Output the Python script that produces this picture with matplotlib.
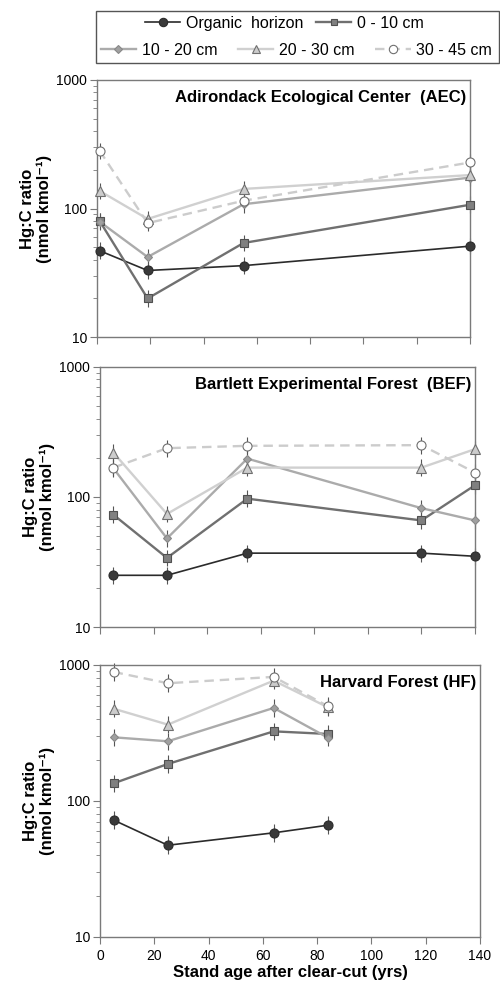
import matplotlib
matplotlib.use("Agg")
import matplotlib.pyplot as plt
from matplotlib.lines import Line2D
from matplotlib.patches import Rectangle
import matplotlib.ticker as mticker

plt.rcParams['font.family'] = ['Liberation Sans', 'DejaVu Sans']

# 数据 (Hg:C ratio, nmol kmol-1)
aec_age = [1, 19, 55, 140]
aec_org = [47, 33, 36, 51]
aec_0_10 = [80, 20, 54, 107]
aec_10_20 = [79, 42, 108, 174]
aec_20_30 = [137, 83, 142, 182]
aec_30_45 = [281, 77, 115, 228]

bef_age = [5, 25, 55, 120, 140]
bef_org = [25, 25, 37, 37, 35]
bef_0_10 = [73, 34, 97, 66, 123]
bef_10_20 = [166, 48, 197, 82, 66]
bef_20_30 = [219, 74, 168, 168, 233]
bef_30_45 = [168, 237, 247, 250, 154]

hf_age = [5, 25, 64, 84]
hf_org = [72, 47, 58, 66]
hf_0_10 = [134, 186, 323, 309]
hf_10_20 = [292, 273, 480, 290]
hf_20_30 = [474, 362, 762, 485]
hf_30_45 = [883, 729, 812, 494]

layer_names = ["Organic  horizon", "0 - 10 cm", "10 - 20 cm", "20 - 30 cm", "30 - 45 cm"]
err_factor = 1.16  # 误差棒大致为 ±16%

# 每层的样式
styles = [
    dict(color='#2b2b2b', ls='-', lw=1.2, marker='o', ms=6.5, mfc='#3a3a3a', mec='#2b2b2b'),
    dict(color='#707070', ls='-', lw=1.7, marker='s', ms=5.5, mfc='#808080', mec='#505050'),
    dict(color='#ababab', ls='-', lw=1.7, marker='D', ms=4.5, mfc='#a0a0a0', mec='#888888'),
    dict(color='#d0d0d0', ls='-', lw=1.7, marker='^', ms=6.5, mfc='#cccccc', mec='#707070'),
    dict(color='#cccccc', ls=(0, (4, 2.5)), lw=1.7, marker='o', ms=6.5, mfc='white', mec='#707070'),
]

panels = [
    ("Adirondack Ecological Center  (AEC)", aec_age,
     [aec_org, aec_0_10, aec_10_20, aec_20_30, aec_30_45], [0.194, 0.658, 0.746, 0.261]),
    ("Bartlett Experimental Forest  (BEF)", bef_age,
     [bef_org, bef_0_10, bef_10_20, bef_20_30, bef_30_45], [0.200, 0.364, 0.750, 0.264]),
    ("Harvard Forest (HF)", hf_age,
     [hf_org, hf_0_10, hf_10_20, hf_20_30, hf_30_45], [0.200, 0.050, 0.760, 0.276]),
]

fig = plt.figure(figsize=(5, 9.86), dpi=100)

spine_c = '#7a7a7a'
for i, (title, age, series, rect) in enumerate(panels):
    ax = fig.add_axes(rect)
    for vals, st in zip(series, styles):
        lo = [v - v / err_factor for v in vals]
        hi = [v * err_factor - v for v in vals]
        eb = ax.errorbar(age, vals, yerr=[lo, hi], fmt='none', ecolor='#555555',
                         elinewidth=0.8, capsize=0, zorder=2)
        for c in eb[2]:
            c.set_clip_on(False)
        ax.plot(age, vals, color=st['color'], ls=st['ls'], lw=st['lw'], zorder=3, clip_on=False)
        ax.plot(age, vals, ls='none', marker=st['marker'], ms=st['ms'],
                mfc=st['mfc'], mec=st['mec'], mew=0.8, zorder=4, clip_on=False)
    ax.set_yscale('log')
    ax.set_ylim(10, 1000)
    ax.set_xlim(0, 140)
    ax.set_xticks(range(0, 141, 20))
    ax.yaxis.set_major_formatter(mticker.FuncFormatter(lambda v, p: "%d" % v))
    ax.yaxis.set_minor_formatter(mticker.NullFormatter())
    for s in ax.spines.values():
        s.set_color(spine_c)
        s.set_linewidth(1.0)
    ax.tick_params(axis='both', which='both', direction='out', colors=spine_c,
                   labelcolor='black', labelsize=10)
    ax.tick_params(axis='y', which='major', length=5, pad=2)
    ax.tick_params(axis='y', which='minor', length=3)
    ax.tick_params(axis='x', which='major', length=5)
    if i < 2:
        ax.set_xticklabels([])
    else:
        ax.set_xlabel("Stand age after clear-cut (yrs)", fontsize=12,
                      fontweight='bold', labelpad=2)
    ax.set_ylabel("Hg:C ratio\n(nmol kmol\u207b\u00b9)", fontsize=12,
                  fontweight='bold', labelpad=3, linespacing=1.15)
    ax.text(0.99, 0.96, title, transform=ax.transAxes, ha='right', va='top',
            fontsize=12, fontweight='bold')

# 图例 (两行)
handles = [Line2D([], [], color=st['color'], ls=st['ls'], lw=st['lw'], marker=st['marker'],
                  ms=st['ms'] - 0.5, mfc=st['mfc'], mec=st['mec'], mew=0.8) for st in styles]
leg_kw = dict(frameon=False, fontsize=11.5, handlelength=2.2, handletextpad=0.37,
              borderpad=0.1)
fig.legend(handles[:2], layer_names[:2], ncol=2, loc='center', columnspacing=0.8,
           bbox_to_anchor=(0.569, 0.9765), **leg_kw)
fig.legend(handles[2:], layer_names[2:], ncol=3, loc='center', columnspacing=1.3,
           bbox_to_anchor=(0.593, 0.949), **leg_kw)
fig.patches.append(Rectangle((0.192, 0.936), 0.806, 0.053, transform=fig.transFigure,
                             fill=False, edgecolor='#555555', lw=1.0))

plt.savefig("out.png", dpi=100)
